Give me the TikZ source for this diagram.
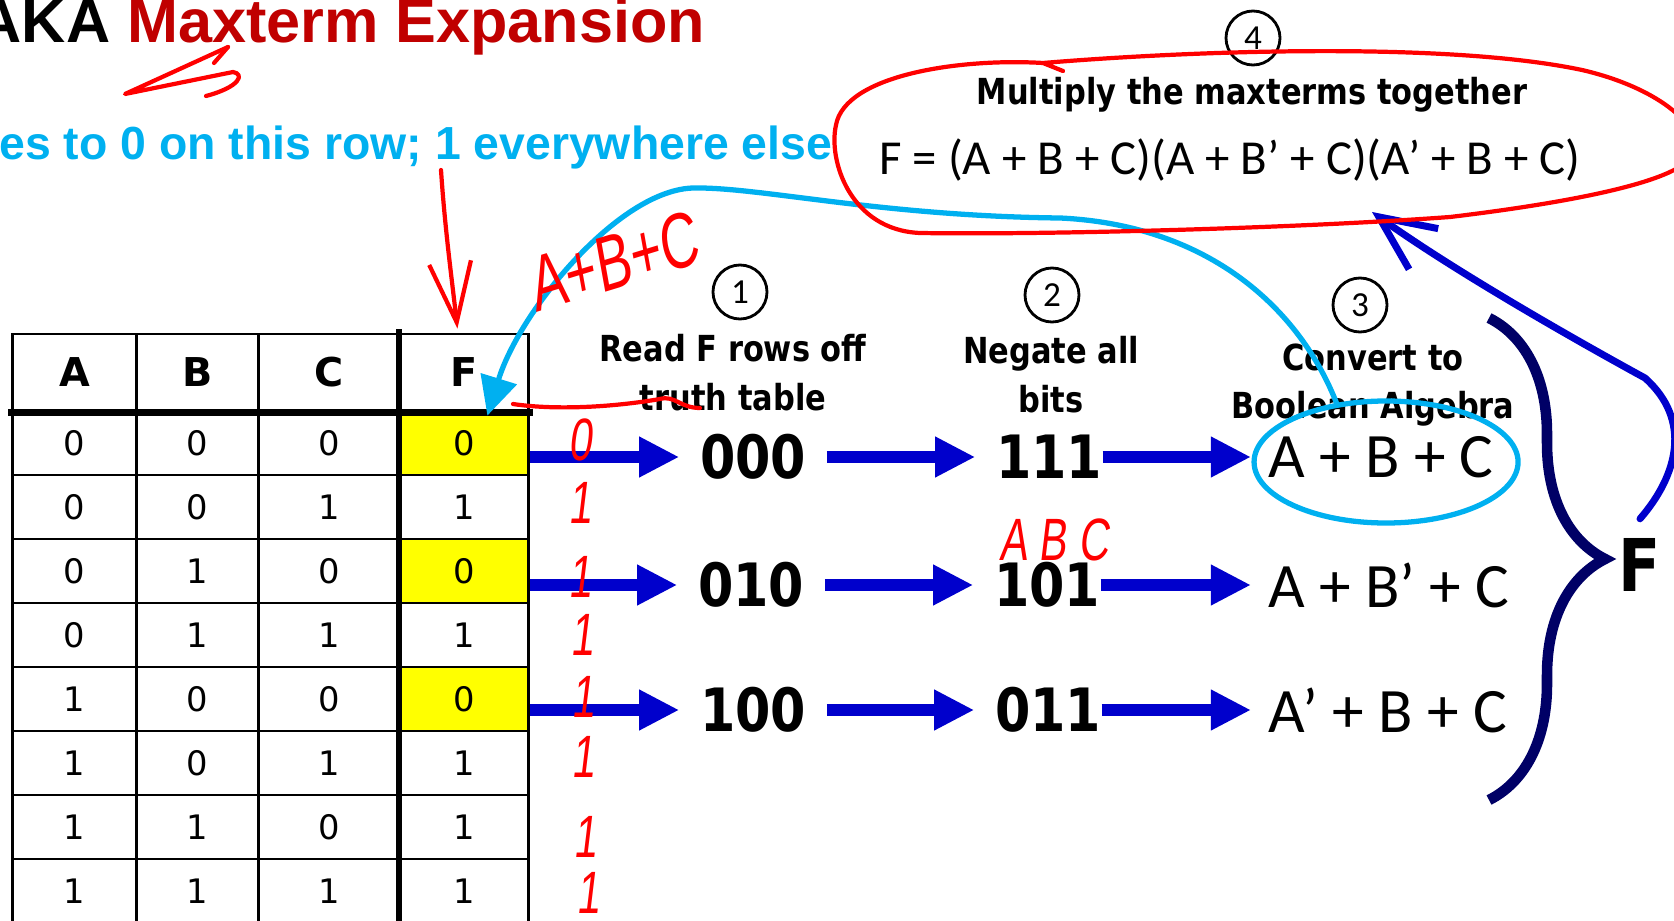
\documentclass[tikz,border=0pt]{standalone}
\usepackage{fontspec}
\setmainfont{Carlito}
\newfontfamily\slidefont{Liberation Sans}
\newfontfamily\tahomafont[FakeStretch=0.85]{DejaVu Sans}
\newfontfamily\verdanafont{DejaVu Sans}
\newfontfamily\handfont[FakeStretch=0.7, FakeSlant=0.12]{Liberation Sans}
\usetikzlibrary{arrows.meta, decorations.pathreplacing, shapes.geometric}
\definecolor{colblock}{HTML}{0000CC}
\definecolor{colink}{HTML}{FF0000}
\definecolor{colcyan}{HTML}{00B0F0}
\definecolor{colbrace}{HTML}{000066}
\definecolor{coltitle}{HTML}{C00000}
\definecolor{colyellow}{HTML}{FFFF00}
\tikzset{
    tt cell/.style={draw=black, line width=0.8pt, inner sep=0pt,
        minimum height=0.64cm, font=\verdanafont\fontsize{9.6}{11}\selectfont},
    tt head/.style={tt cell, minimum height=0.77cm,
        font=\verdanafont\bfseries\fontsize{11.3}{13}\selectfont},
    zero cell/.style={tt cell, fill=colyellow},
    col a/.style={minimum width=1.239cm},
    col b/.style={minimum width=1.217cm},
    col c/.style={minimum width=1.419cm},
    col f/.style={minimum width=1.282cm},
    tt rule/.style={line width=1.8pt, line cap=rect},
    num circle/.style={circle, draw=black, line width=0.8pt,
        minimum size=0.54cm, inner sep=0pt, font=\fontsize{10}{12}\selectfont},
    stage text/.style={align=center, inner sep=0pt,
        font=\tahomafont\bfseries\fontsize{10.2}{13.9}\selectfont},
    bits/.style={inner xsep=5.7pt, inner ysep=0pt,
        font=\tahomafont\bfseries\fontsize{17}{20}\selectfont},
    maxterm/.style={anchor=west, inner xsep=4.8pt, inner ysep=0pt,
        font=\fontsize{18}{21}\selectfont},
    flow arrow/.style={-{Triangle[length=11.4pt, width=10.8pt]},
        line width=3.4pt, draw=colblock},
    ink/.style={draw=colink, line width=1.2pt, line cap=round, line join=round},
    hand/.style={text=colink, inner sep=0pt,
        font=\handfont\fontsize{17}{20}\selectfont},
    cyan ink/.style={draw=colcyan, line width=1.5pt, line cap=round},
    blue ink/.style={draw=colblock, line width=2pt, line cap=round},
    max brace/.style={decorate, decoration={brace, amplitude=1.16cm},
        draw=colbrace, line width=3pt},
}

\begin{document}
\begin{tikzpicture}

\useasboundingbox (0, 0) rectangle (16.74, 9.20);

% ===== HEADINGS =====
\node[anchor=base west, inner sep=0pt, font=\slidefont\bfseries\fontsize{17.4}{20}\selectfont]
    (title) at (-0.23, 8.77) {AKA \textcolor{coltitle}{Maxterm Expansion}};
\node[anchor=base east, inner sep=0pt, text=colcyan, font=\slidefont\bfseries\fontsize{13.2}{16}\selectfont]
    (subtitle) at (8.33, 7.60) {es to 0 on this row; 1 everywhere else};

% ===== TRUTH TABLE =====
\node[tt head, col a] (hA) at (0.747, 5.475) {A};
\node[tt head, col b] (hB) at (1.976, 5.475) {B};
\node[tt head, col c] (hC) at (3.294, 5.475) {C};
\node[tt head, col f] (hF) at (4.644, 5.475) {F};
\node[tt cell, col a] (r1A) at (0.747, 4.77) {0};
\node[tt cell, col b] (r1B) at (1.976, 4.77) {0};
\node[tt cell, col c] (r1C) at (3.294, 4.77) {0};
\node[zero cell, col f] (r1F) at (4.644, 4.77) {0};
\node[tt cell, col a] (r2A) at (0.747, 4.13) {0};
\node[tt cell, col b] (r2B) at (1.976, 4.13) {0};
\node[tt cell, col c] (r2C) at (3.294, 4.13) {1};
\node[tt cell, col f] (r2F) at (4.644, 4.13) {1};
\node[tt cell, col a] (r3A) at (0.747, 3.49) {0};
\node[tt cell, col b] (r3B) at (1.976, 3.49) {1};
\node[tt cell, col c] (r3C) at (3.294, 3.49) {0};
\node[zero cell, col f] (r3F) at (4.644, 3.49) {0};
\node[tt cell, col a] (r4A) at (0.747, 2.85) {0};
\node[tt cell, col b] (r4B) at (1.976, 2.85) {1};
\node[tt cell, col c] (r4C) at (3.294, 2.85) {1};
\node[tt cell, col f] (r4F) at (4.644, 2.85) {1};
\node[tt cell, col a] (r5A) at (0.747, 2.21) {1};
\node[tt cell, col b] (r5B) at (1.976, 2.21) {0};
\node[tt cell, col c] (r5C) at (3.294, 2.21) {0};
\node[zero cell, col f] (r5F) at (4.644, 2.21) {0};
\node[tt cell, col a] (r6A) at (0.747, 1.57) {1};
\node[tt cell, col b] (r6B) at (1.976, 1.57) {0};
\node[tt cell, col c] (r6C) at (3.294, 1.57) {1};
\node[tt cell, col f] (r6F) at (4.644, 1.57) {1};
\node[tt cell, col a] (r7A) at (0.747, 0.93) {1};
\node[tt cell, col b] (r7B) at (1.976, 0.93) {1};
\node[tt cell, col c] (r7C) at (3.294, 0.93) {0};
\node[tt cell, col f] (r7F) at (4.644, 0.93) {1};
\node[tt cell, col a] (r8A) at (0.747, 0.29) {1};
\node[tt cell, col b] (r8B) at (1.976, 0.29) {1};
\node[tt cell, col c] (r8C) at (3.294, 0.29) {1};
\node[tt cell, col f] (r8F) at (4.644, 0.29) {1};
\draw[tt rule] (hA.south west) -- (hF.south east);
\draw[tt rule] (hF.north west) -- (r8F.south west);

% ===== STEPS =====
\node[num circle] (n1) at (7.40, 6.28) {1};
\node[num circle] (n2) at (10.52, 6.25) {2};
\node[num circle] (n3) at (13.60, 6.15) {3};
\node[num circle] (n4) at (12.53, 8.82) {4};
\node[stage text] (read) at (7.33, 5.475) {Read F rows off\\truth table};
\node[stage text] (negate) at (10.51, 5.45) {Negate all\\bits};
\node[stage text] (convert) at (13.73, 5.35) {Convert to\\Boolean Algebra};
\node[stage text] (multiply) at (12.52, 8.25) {Multiply the maxterms together};
\node[inner sep=0pt, font=\fontsize{13.9}{17}\selectfont] (product) at (12.30, 7.60)
    {F = (A + B + C)(A + B’ + C)(A’ + B + C)};

\node[bits] (bits000) at (7.53, 4.63) {000};
\node[bits] (bits111) at (10.49, 4.63) {111};
\node[bits] (bits010) at (7.51, 3.35) {010};
\node[bits] (bits101) at (10.47, 3.35) {101};
\node[bits] (bits100) at (7.53, 2.10) {100};
\node[bits] (bits011) at (10.48, 2.10) {011};
\node[maxterm] (maxA) at (12.51, 4.63) {A + B + C};
\node[maxterm] (maxB) at (12.51, 3.35) {A + B’ + C};
\node[maxterm] (maxC) at (12.51, 2.10) {A’ + B + C};

% ===== FLOW ARROWS =====
\draw[flow arrow] (r1F.east |- bits000.west) -- (bits000.west);
\draw[flow arrow] (bits000) -- (bits111);
\draw[flow arrow, shorten <=-5.7pt] (bits111) -- (maxA);
\draw[flow arrow] (r3F.east |- bits010.west) -- (bits010.west);
\draw[flow arrow] (bits010) -- (bits101);
\draw[flow arrow, shorten <=-5.7pt] (bits101) -- (maxB);
\draw[flow arrow] (r5F.east |- bits100.west) -- (bits100.west);
\draw[flow arrow] (bits100) -- (bits011);
\draw[flow arrow, shorten <=-5.7pt] (bits011) -- (maxC);

% ===== BRACE =====
\coordinate (braceTop) at (14.89, 6.02);
\coordinate (braceBot) at (14.89, 1.20);
\draw[max brace] (braceTop) -- (braceBot);
\node[inner sep=0pt, font=\tahomafont\bfseries\fontsize{20.7}{24}\selectfont] (Flabel) at (16.40, 3.55) {F};

% ===== INK: CYAN =====
\node[ellipse, draw=colcyan, line width=1.5pt, minimum width=2.64cm, minimum height=1.22cm, inner sep=0pt]
    (ringA) at ([shift={(0.05,-0.05)}]maxA.center) {};
\draw[cyan ink, -{Triangle[length=11pt, width=10.5pt]}] (ringA.130)
    .. controls (13.0, 6.1) and (12.1, 6.95) .. (10.6, 7.02)
    .. controls (8.8, 7.04) and (7.6, 7.33) .. (6.94, 7.32)
    .. controls (6.2, 7.31) and (5.2, 6.1) .. ([shift={(0.23,-0.06)}]r1F.north);

% ===== INK: BLUE =====
\coordinate (prodtip) at (13.72, 7.08);
\draw[blue ink, -{Straight Barb[length=0.55cm, width=0.5cm]}] ([yshift=0.19cm]Flabel.north)
    .. controls (16.78, 4.45) and (16.92, 5.0) .. (16.45, 5.42)
    .. controls (15.9, 5.72) and (14.6, 6.45) .. (prodtip);

% ===== INK: RED =====
\draw[ink] (10.63, 8.49) -- (10.43, 8.57)
    .. controls (12.0, 8.70) and (14.5, 8.78) .. (15.82, 8.50)
    .. controls (16.6, 8.32) and (17.1, 7.90) .. (16.90, 7.62)
    .. controls (16.7, 7.35) and (15.5, 7.15) .. (14.50, 7.03)
    .. controls (13.0, 6.92) and (10.5, 6.85) .. (9.20, 6.87)
    .. controls (8.5, 6.90) and (8.28, 7.60) .. (8.36, 7.95)
    .. controls (8.45, 8.45) and (9.6, 8.62) .. (10.43, 8.57);
\draw[ink] (2.28, 8.73) -- (1.25, 8.26) -- (2.33, 8.48)
    .. controls (2.45, 8.46) and (2.40, 8.33) .. (2.06, 8.24);
\draw[ink] (2.28, 8.73) -- (2.14, 8.57);
\coordinate (inkdown) at (4.41, 7.50);
\draw[ink, -{Straight Barb[length=0.6cm, width=0.42cm]}] (inkdown)
    .. controls (4.45, 6.9) and (4.52, 6.4) .. ([shift={(-0.07,0.04)}]hF.north);
\draw[ink] (5.13, 5.16) .. controls (5.6, 5.09) and (6.2, 5.14) .. (6.60, 5.21)
    .. controls (6.75, 5.25) and (6.80, 5.12) .. (7.00, 5.12);
\node[hand, font=\handfont\fontsize{22}{26}\selectfont, rotate=17] (inksum) at (6.12, 6.58) {A+B+C};
\node[hand] (inkbits) at (10.54, 3.80) {A B C};
\node[hand] (mark1) at (5.80, 4.80) {0};
\node[hand] (mark2) at (5.80, 4.17) {1};
\node[hand] (mark3) at (5.80, 3.43) {1};
\node[hand] (mark4) at (5.82, 2.85) {1};
\node[hand] (mark5) at (5.83, 2.23) {1};
\node[hand] (mark6) at (5.83, 1.63) {1};
\node[hand] (mark7) at (5.85, 0.83) {1};
\node[hand] (mark8) at (5.88, 0.27) {1};

\end{tikzpicture}
\end{document}
